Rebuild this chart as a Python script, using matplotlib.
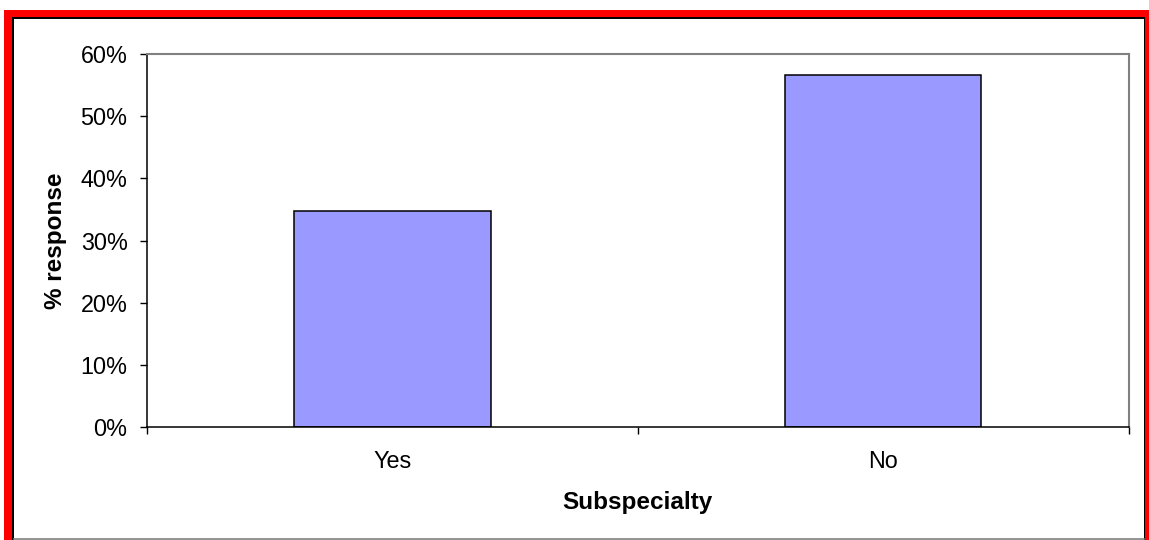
import matplotlib
matplotlib.use("Agg")
import matplotlib.pyplot as plt
from matplotlib.patches import Rectangle
from matplotlib.lines import Line2D
from matplotlib.ticker import FixedLocator, FuncFormatter

categories = ["Yes", "No"]
values = [34.7, 56.6]
yticks = [0, 10, 20, 30, 40, 50, 60]
xlabel = "Subspecialty"
ylabel = "% response"

plt.rcParams['font.family'] = ['Liberation Sans', 'DejaVu Sans']

W, H = 1149, 540
fig = plt.figure(figsize=(W / 100, H / 100), dpi=100)
fig.patch.set_facecolor("white")

def px_rect(x0, y0, x1, y1, **kw):
    # pixel coords with top-left origin
    return Rectangle((x0 / W, 1 - y1 / H), (x1 - x0) / W, (y1 - y0) / H,
                     transform=fig.transFigure, **kw)

fig.add_artist(px_rect(4, 10, 1160, 560, facecolor="#FF0000", edgecolor="none", zorder=-5))
fig.add_artist(px_rect(12, 17, 1145, 560, facecolor="black", edgecolor="none", zorder=-4))
fig.add_artist(px_rect(14, 19, 1143.5, 560, facecolor="white", edgecolor="none", zorder=-3))
fig.add_artist(Line2D([14 / W, 1143.5 / W], [1 - 539 / H, 1 - 539 / H],
                      transform=fig.transFigure, color="#808080", lw=1.2, zorder=-2))

ax = fig.add_axes([147 / W, 1 - 427.3 / H, 981.7 / W, 373.3 / H])
x = list(range(len(categories)))
ax.bar(x, values, width=0.4, color="#9999FF", edgecolor="black", linewidth=1.1, zorder=2)

ax.set_xlim(-0.5, len(categories) - 0.5)
ax.set_ylim(0, 60)
ax.set_yticks(yticks)
ax.yaxis.set_major_formatter(FuncFormatter(lambda v, p: f"{int(v)}%"))
ax.set_xticks(x)
ax.set_xticklabels(categories)
ax.xaxis.set_minor_locator(FixedLocator([i - 0.5 for i in range(len(categories) + 1)]))

ax.tick_params(axis="y", direction="out", length=5, width=1, labelsize=16.8, pad=9, color="black")
ax.tick_params(axis="x", which="major", length=0, labelsize=16.8, pad=16)
ax.tick_params(axis="x", which="minor", direction="out", length=5, width=1, color="black")

for s in ["top", "right"]:
    ax.spines[s].set_color("#808080")
    ax.spines[s].set_linewidth(1.5)
for s in ["left", "bottom"]:
    ax.spines[s].set_color("black")
    ax.spines[s].set_linewidth(1.1)

ax.set_xlabel(xlabel, fontsize=17.5, fontweight="bold", labelpad=13)
ax.set_ylabel(ylabel, fontsize=17.5, fontweight="bold", labelpad=9.5)

fig.savefig("out.png", dpi=100)
